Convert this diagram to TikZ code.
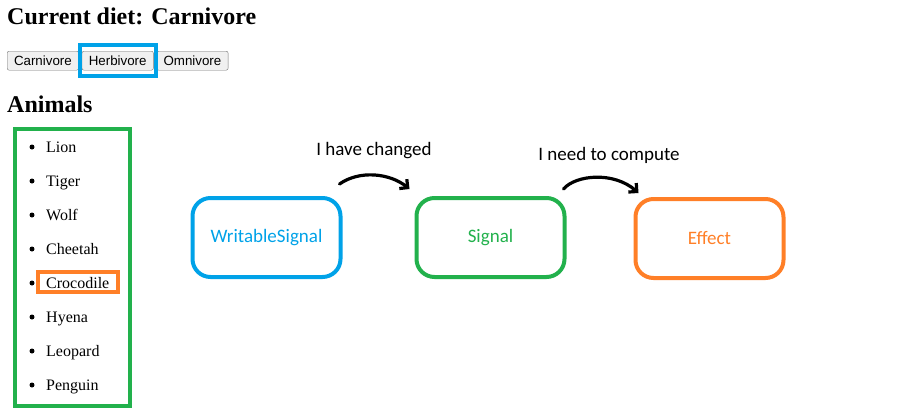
\documentclass[tikz,border=0pt]{standalone}
\usepackage{fontspec}
\setmainfont{Liberation Serif}
\newfontfamily\btnfont{Liberation Sans}
\newfontfamily\boxfont{Carlito}
\usetikzlibrary{positioning,arrows.meta}
\definecolor{paintblue}{HTML}{00A2E8}
\definecolor{paintgreen}{HTML}{22B14C}
\definecolor{paintorange}{HTML}{FF7F27}
\tikzset{
  button/.style={draw=gray!90!black, fill=gray!12, rounded corners=2pt, minimum height=19pt, inner xsep=6.8pt, inner ysep=0pt, font=\btnfont\fontsize{13.33}{16}\selectfont},
  signalbox/.style={draw, line width=4pt, rounded corners=18pt, minimum width=148pt, minimum height=79pt, font=\boxfont\fontsize{19}{23}\selectfont},
  hand/.style={line width=3.2pt, line cap=round, -{Straight Barb[length=6pt,width=12pt]}},
  talk/.style={font=\boxfont\fontsize{19}{23}\selectfont},
  heading/.style={anchor=base west, inner sep=0pt, font=\bfseries\fontsize{24}{28}\selectfont},
}
\begin{document}
\begin{tikzpicture}[x=1pt, y=-1pt]
		\useasboundingbox (0,0) rectangle (898,415);
		
		% headings
		\node[heading] (title) at (7,24) {Current diet: Carnivore};
		\node[heading] (animals) at (7,112) {Animals};
		
		% buttons
		\node[button, anchor=north west] (carn) at (7,51) {Carnivore};
		\node[button, right=3pt of carn] (herb) {Herbivore};
		\node[button, right=3pt of herb] (omni) {Omnivore};
		\draw[paintblue, line width=4pt] ([shift={(-2,-6)}]herb.north west) rectangle ([shift={(2,6)}]herb.south east);
		
		% animal list
		\draw[paintgreen, line width=4pt] (15,129) rectangle (130,406);
		\foreach \name [count=\i] in {Lion,Tiger,Wolf,Cheetah,Crocodile,Hyena,Leopard,Penguin}{
			\fill (32,{152+34*(\i-1)-5}) circle [radius=2.5];
			\node[anchor=base west, inner sep=0pt, font=\fontsize{16}{19}\selectfont] (a\i) at (46,{152+34*(\i-1)}) {\name};
		}
		\draw[paintorange, line width=4pt] ([shift={(-8,-5)}]a5.north west) rectangle ([shift={(9,4)}]a5.south east);
		
		% signals
		\node[signalbox, draw=paintblue, text=paintblue] (ws) at (266.5,237.5) {WritableSignal};
		\node[signalbox, draw=paintgreen, text=paintgreen, right=72pt of ws] (sig) {Signal};
		\node[signalbox, draw=paintorange, text=paintorange, right=67pt of sig, yshift=-1pt] (eff) {Effect};
		
		\draw[hand] ([shift={(-3,-12)}]ws.north east) .. controls +(20,-14) and +(-20,-16) .. ([shift={(-5,-7)}]sig.north west);
		\draw[hand] ([shift={(-3,-7)}]sig.north east) .. controls +(12,-14) and +(-25,-22) .. ([shift={(5,-4)}]eff.north west);
		
		\node[talk] (changed) at (374,151) {I have changed};
		\node[talk] (compute) at (609,155) {I need to compute};
		\end{tikzpicture}
\end{document}
